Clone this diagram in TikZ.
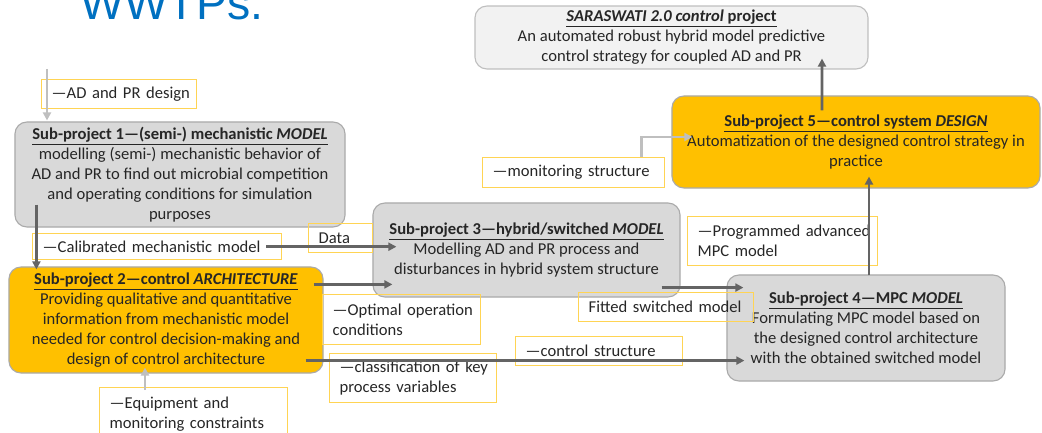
\documentclass[tikz,border=0pt]{standalone}
\usepackage{fontspec}
\setmainfont{Carlito}
\newfontfamily\slidefont{Liberation Sans}
\usepackage{xcolor}
\usetikzlibrary{arrows.meta, positioning, calc}

\definecolor{boxgray}{RGB}{217,217,217}
\definecolor{boxedge}{RGB}{170,170,170}
\definecolor{topgray}{RGB}{242,242,242}
\definecolor{subgold}{RGB}{255,192,0}
\definecolor{lblyellow}{RGB}{255,212,84}
\definecolor{linegray}{RGB}{100,100,100}
\definecolor{lightline}{RGB}{191,191,191}
\definecolor{slideblue}{RGB}{0,112,192}

\begin{document}
\begin{tikzpicture}[
    x=0.025cm, y=-0.025cm,
    font=\fontsize{11.8}{14.2}\selectfont,
    subproject/.style={rectangle, rounded corners=0.3cm, draw=boxedge, line width=0.8pt, fill=boxgray, align=center, inner sep=0pt, text=black!85},
    datalabel/.style={rectangle, draw=lblyellow, line width=1pt, align=left, anchor=north west, inner xsep=0.25cm, inner ysep=0pt, text=black!85},
    arrow/.style={-{Triangle[length=0.2cm,width=0.2cm]}, draw=linegray, line width=1.8pt},
    softarrow/.style={-{Triangle[length=0.2cm,width=0.2cm]}, draw=lightline, line width=1.8pt}
]
    \useasboundingbox (0,0) rectangle (1042,433);
    \clip (0,0) rectangle (1042,433);

    \node[anchor=base west, inner sep=0pt, font=\slidefont\fontsize{33}{36}\selectfont, text=slideblue] (heading) at (80,20) {WWTPs.};

    \node[subproject, fill=topgray, draw=lightline, minimum width=9.825cm, minimum height=1.575cm] (sara) at (671.5,37.5)
        {\underline{\textbf{\textit{SARASWATI 2.0 control} project}}\\ An automated robust hybrid model predictive\\ control strategy for coupled AD and PR};
    \node[subproject, fill=subgold, minimum width=9.2cm, minimum height=2.3cm] (sp5) at (856,142)
        {\underline{\textbf{Sub-project 5—control system \textit{DESIGN}}}\\ Automatization of the designed control strategy in\\ practice};
    \node[subproject, minimum width=8.25cm, minimum height=2.625cm] (sp1) at (180,174.5)
        {\underline{\textbf{Sub-project 1—(semi-) mechanistic \textit{MODEL}}}\\ modelling (semi-) mechanistic behavior of\\ AD and PR to find out microbial competition\\ and operating conditions for simulation\\ purposes};
    \node[subproject, minimum width=7.675cm, minimum height=2.35cm] (sp3) at (526.5,250)
        {\underline{\textbf{Sub-project 3—hybrid/switched \textit{MODEL}}}\\ Modelling AD and PR process and\\ disturbances in hybrid system structure};
    \node[subproject, fill=subgold, minimum width=7.85cm, minimum height=2.65cm] (sp2) at (166,320)
        {\underline{\textbf{Sub-project 2—control \textit{ARCHITECTURE}}}\\ Providing qualitative and quantitative\\ information from mechanistic model\\ needed for control decision-making and\\ design of control architecture};
    \node[subproject, minimum width=6.95cm, minimum height=2.65cm] (sp4) at (866,328)
        {\underline{\textbf{Sub-project 4—MPC \textit{MODEL}}}\\ Formulating MPC model based on\\ the designed control architecture\\ with the obtained switched model};

    % exchanged data
    \node[datalabel, text width=3.375cm, minimum height=0.725cm] (adpr) at (41,79) {\mbox{—AD and PR design}};
    \node[datalabel, text width=5.725cm, minimum height=0.65cm] (calib) at (32,233) {\mbox{—Calibrated mechanistic model}};
    \node[datalabel, text width=1.1cm, minimum height=0.725cm] (data) at (308,223) {Data};
    \node[datalabel, text width=3.45cm, minimum height=1.25cm] (optimal) at (322,294) {\mbox{—Optimal operation}\\ conditions};
    \node[datalabel, text width=3.675cm, minimum height=1.225cm] (classif) at (329,353) {\mbox{—classification of key}\\ \mbox{process variables}};
    \node[datalabel, text width=3.675cm, minimum height=0.725cm] (ctrl) at (515,336) {\mbox{—control structure}};
    \node[datalabel, text width=3.875cm, minimum height=0.725cm] (fitted) at (578,292) {\mbox{Fitted switched model}};
    \node[datalabel, text width=4.25cm, minimum height=1.225cm] (mpc) at (687,216) {\mbox{—Programmed advanced}\\ \mbox{MPC model}};
    \node[datalabel, text width=4.05cm, minimum height=0.75cm] (monitor) at (482,157) {\mbox{—monitoring structure}};
    \node[datalabel, text width=4.2cm, minimum height=1.3cm] (equip) at (99,387) {\mbox{—Equipment and}\\ \mbox{monitoring constraints}};

    \coordinate (adtop) at (47,69);
    \coordinate (sp1out) at ($(sp1.south west)+(22,-23)$);
    \coordinate (sp2top) at ($(sp2.north east)+(-10,18)$);
    \coordinate (sp2low) at ($(sp2.south east)+(-18,-13)$);
    \coordinate (sp3low) at ($(sp3.south east)+(-19,-10)$);

    \draw[softarrow] (adtop) -- ($(adtop |- sp1.north)+(0,-1)$);
    \draw[arrow] (sp1out) -- ($(sp1out |- sp2.north)+(0,3)$);
    \draw[arrow] ($(calib.east)+(-16,0)$) -- ($(calib.east -| sp3.west)+(24,0)$);
    \draw[arrow] (sp2top) -- ($(sp2top -| sp3.west)+(20,0)$);
    \draw[arrow] (sp2low) -- ($(sp2low -| sp4.west)+(18,0)$);
    \draw[arrow] (sp3low) -- ($(sp3low -| sp4.west)+(17,0)$);
    \draw[arrow] ($(sp4.north)+(3,1)$) -- ($(sp5.south)+(13,-12)$);
    \draw[arrow] ($(sp5.north)+(-34,15)$) -- ($(sara.south)+(150.5,-11)$);
    \draw[softarrow] ($(monitor.north east)+(-24,0)$) |- ($(sp5.west)+(21,-5)$);
    \draw[softarrow] ($(equip.north west)+(46,3)$) -- ($(sp2.south)+(-21,-6)$);
\end{tikzpicture}
\end{document}
